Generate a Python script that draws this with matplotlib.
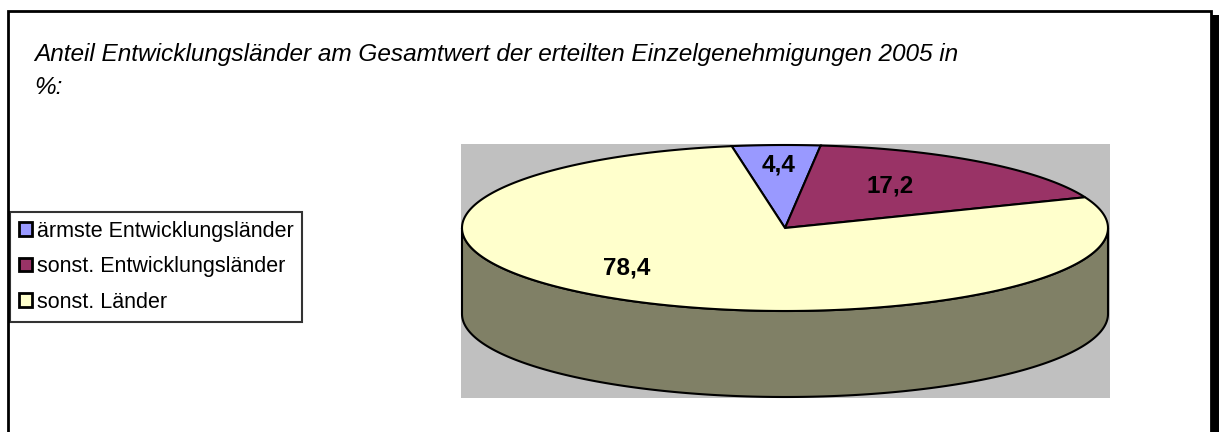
import numpy as np
import matplotlib
matplotlib.use("Agg")
import matplotlib.pyplot as plt
from matplotlib.patches import Polygon, Rectangle, Patch

# ---- data ----
categories = ["ärmste Entwicklungsländer", "sonst. Entwicklungsländer", "sonst. Länder"]
values = [4.4, 17.2, 78.4]
value_labels = ["4,4", "17,2", "78,4"]
title_lines = ["Anteil Entwicklungsländer am Gesamtwert der erteilten Einzelgenehmigungen 2005 in", "%:"]

# ---- style ----
top_colors = ["#9999FF", "#993366", "#FFFFCC"]
side_colors = ["#4D4D80", "#4D1A33", "#808066"]
W, H = 1219, 432
FONT = "Liberation Sans"

fig = plt.figure(figsize=(W / 100, H / 100), dpi=100)
ax = fig.add_axes([0, 0, 1, 1])
ax.set_xlim(0, W)
ax.set_ylim(H, 0)
ax.axis("off")

# outer frame with shadow
ax.add_patch(Rectangle((1212, 15), 7, H, facecolor="black", edgecolor="none", zorder=1))
ax.plot([8, 8, 1211, 1211], [H + 5, 11, 11, H + 5], color="black", lw=2, zorder=2,
        solid_joinstyle="miter")

# grey plot area
ax.add_patch(Rectangle((461, 144), 649, 254, facecolor="#C0C0C0", edgecolor="none", zorder=2))

# pie geometry
cx, cy, rx, ry, depth = 785, 228, 323, 83, 86
start = -9.5  # degrees clockwise from 12 o'clock
fr = np.array(values) / np.sum(values)
bounds = start + 360 * np.concatenate([[0], np.cumsum(fr)])

def pt(a, dy=0.0):
    r = np.radians(a)
    return cx + rx * np.sin(r), cy - ry * np.cos(r) + dy

# sides (visible front half: 90..270 deg clockwise from top)
for i in range(len(values)):
    a0, a1 = bounds[i], bounds[i + 1]
    for shift in (-360, 0, 360):
        lo, hi = max(a0 + shift, 90), min(a1 + shift, 270)
        if hi > lo:
            t = np.linspace(lo, hi, 200)
            xs, ys = pt(t)
            xb, yb = pt(t[::-1], depth)
            poly = np.column_stack([np.concatenate([xs, xb]), np.concatenate([ys, yb])])
            ax.add_patch(Polygon(poly, closed=True, facecolor=side_colors[i],
                                 edgecolor="black", lw=1.5, zorder=3))

# top wedges
for i in range(len(values)):
    t = np.linspace(bounds[i], bounds[i + 1], 300)
    xs, ys = pt(t)
    poly = np.column_stack([np.concatenate([[cx], xs]), np.concatenate([[cy], ys])])
    ax.add_patch(Polygon(poly, closed=True, facecolor=top_colors[i], edgecolor="black",
                         lw=1.5, joinstyle="miter", zorder=4))

# value labels
label_pos = [(779, 165), (890, 186), (627, 268)]
for (lx, ly), s in zip(label_pos, value_labels):
    ax.text(lx, ly, s, ha="center", va="center", fontsize=17.5, fontweight="bold",
            family=FONT, zorder=6)

# title
for k, line in enumerate(title_lines):
    ax.text(34, 55 + k * 33, line, ha="left", va="center", fontsize=17.6, style="italic",
            family=FONT, zorder=6)

# legend
handles = [Patch(facecolor=c, edgecolor="black", lw=2) for c in top_colors]
leg = fig.legend(handles, categories, loc="upper left",
                 bbox_to_anchor=(10 / W, 1 - 212 / H), frameon=True, fancybox=False,
                 prop={"family": FONT, "size": 15.5}, handlelength=0.6, handleheight=0.6,
                 handletextpad=0.25, borderpad=0.4, labelspacing=0.68, borderaxespad=0)
leg.get_frame().set_edgecolor("black")
leg.get_frame().set_linewidth(1.5)

fig.savefig("out.png", dpi=100)
